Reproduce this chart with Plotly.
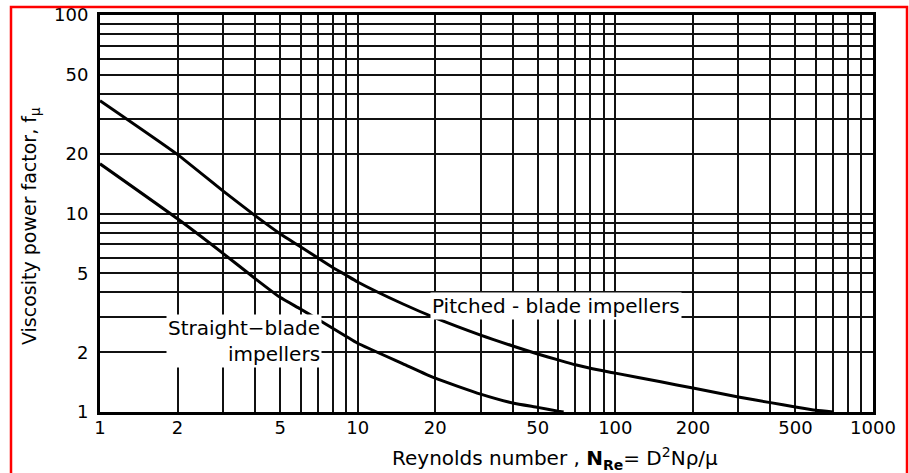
import math
import plotly.graph_objects as go

# ---- data ----
straight_re = [1, 2, 3, 4, 5, 6, 7, 8, 9, 10, 15, 20, 30, 40, 50, 60, 63]
straight_f = [17.8, 9.4, 6.3, 4.7, 3.78, 3.3, 2.93, 2.64, 2.41, 2.22, 1.75, 1.48, 1.23,
              1.11, 1.055, 1.01, 1.0]

pitched_re = [1, 2, 3, 4, 5, 6, 7, 8, 9, 10, 15, 20, 30, 40, 50, 60, 70, 80, 100,
              150, 200, 300, 400, 500, 600, 700]
pitched_f = [37, 19.8, 13.0, 9.75, 7.9, 6.8, 5.98, 5.35, 4.9, 4.52, 3.5, 2.98, 2.44, 2.15,
             1.96, 1.83, 1.73, 1.66, 1.57, 1.42, 1.32, 1.19, 1.115, 1.06, 1.02, 1.0]

x_major = [1, 2, 5, 10, 20, 50, 100, 200, 500, 1000]
x_labels = ["1", "2", "5", "10", "20", "50", "100", "200", "500", "1000"]
x_minor = [3, 4, 6, 7, 8, 9, 30, 40, 60, 70, 80, 90, 300, 400, 600, 700, 800, 900]
y_major = [1, 2, 5, 10, 20, 50, 100]
y_labels = ["1", "2", "5", "10", "20", "50", "100"]
y_minor = [3, 4, 6, 7, 8, 9, 30, 40, 60, 70, 80, 90]

pitched_label = "Pitched - blade impellers"
pitched_label_pos = (58.8, 3.42)
straight_label = "Straight\u2212blade<br>impellers"
straight_label_pos = (7.3, 2.27)

x_title = "Reynolds number , <b>N<sub>Re</sub></b>= D<sup>2</sup>Nρ/μ"
y_title = "Viscosity power factor, f<sub>μ</sub>"

FONT = "DejaVu Sans"
GRID = "#111111"
GW = 1.7

fig = go.Figure()
fig.add_trace(go.Scatter(x=straight_re, y=straight_f, mode="lines",
                         line=dict(color="black", width=3, shape="spline", smoothing=0.5),
                         name="Straight-blade impellers", hoverinfo="skip"))
fig.add_trace(go.Scatter(x=pitched_re, y=pitched_f, mode="lines",
                         line=dict(color="black", width=3, shape="spline", smoothing=0.5),
                         name="Pitched-blade impellers", hoverinfo="skip"))

W, H = 909, 473
L, R, T, B = 100, 36, 15, 61
pw, ph = W - L - R, H - T - B


def px_x(p):
    return (p - L) / pw


def px_y(p):
    return (H - B - p) / ph


axis_common = dict(
    showgrid=True, gridcolor=GRID, gridwidth=GW, zeroline=False,
    showline=True, linecolor="black", linewidth=3, mirror=True,
    ticks="", tickmode="array", automargin=False,
    tickfont=dict(size=18, family=FONT, color="black"),
)

fig.update_layout(
    width=W, height=H,
    margin=dict(l=L, r=R, t=T, b=B, autoexpand=False),
    paper_bgcolor="white", plot_bgcolor="white",
    showlegend=False,
    font=dict(family=FONT, color="black", size=16),
    xaxis=dict(type="log", range=[0, 3], tickvals=x_major, ticktext=x_labels,
               ticklabelstandoff=-3,
               minor=dict(tickmode="array", tickvals=x_minor, showgrid=True,
                          gridcolor=GRID, gridwidth=GW, ticks=""),
               **axis_common),
    yaxis=dict(type="log", range=[0, 2], tickvals=y_major, ticktext=y_labels,
               ticklabelstandoff=5,
               minor=dict(tickmode="array", tickvals=y_minor, showgrid=True,
                          gridcolor=GRID, gridwidth=GW, ticks=""),
               **axis_common),
    annotations=[
        dict(x=math.log10(pitched_label_pos[0]), y=math.log10(pitched_label_pos[1]),
             xref="x", yref="y", text=pitched_label, showarrow=False,
             font=dict(size=20, family=FONT), bgcolor="white", borderpad=1),
        dict(x=math.log10(straight_label_pos[0]), y=math.log10(straight_label_pos[1]),
             xref="x", yref="y", text=straight_label, showarrow=False, align="right",
             xanchor="right", font=dict(size=20, family=FONT), bgcolor="white", borderpad=1),
        dict(x=px_x(555), y=px_y(458), xref="paper", yref="paper", text=x_title,
             xanchor="center", yanchor="middle",
             showarrow=False, font=dict(size=20, family=FONT)),
        dict(x=px_x(30), y=px_y(226), xref="paper", yref="paper", text=y_title,
             xanchor="center", yanchor="middle",
             showarrow=False, textangle=-90, font=dict(size=19, family=FONT)),
    ],
    shapes=[
        dict(type="rect", xref="paper", yref="paper",
             x0=px_x(11), x1=px_x(907), y0=px_y(490), y1=px_y(7),
             line=dict(color="#ff0000", width=2.5), fillcolor="rgba(0,0,0,0)", layer="above"),
    ],
)

fig.write_html("out.html", config={"displayModeBar": False},
               post_script="document.body.style.margin='0';document.body.style.overflow='hidden';")
